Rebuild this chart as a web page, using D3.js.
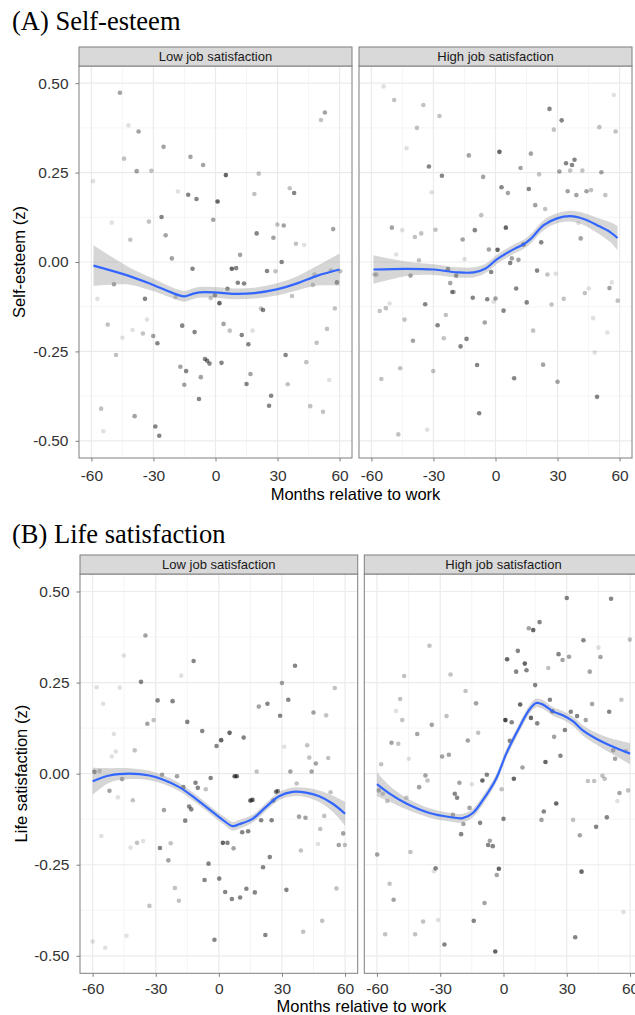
<!DOCTYPE html>
<html>
<head>
<meta charset="utf-8">
<script src="https://cdn.jsdelivr.net/npm/d3@7"></script>
<style>
  body { margin: 0; background: #fff; }
  svg { display: block; }
  text { font-family: "Liberation Sans", Arial, sans-serif; }
  .panel-title { font-family: "Liberation Serif", "Times New Roman", serif; }
</style>
</head>
<body>
<svg id="chart" width="635" height="1015"></svg>
<script>
// Tick labels and facet names
const monthTicks = [-60, -30, 0, 30, 60];
const valueTicks = [-0.5, -0.25, 0, 0.25, 0.5];
const facetNames = ["Low job satisfaction", "High job satisfaction"];

// Points: [months relative to work, z score, weight (darkness)]
const selfEsteemLow = [
  [-46.2,0.473,2],[-42.1,0.382,1],[-37.2,0.365,2],[-44.2,0.289,1.5],[-25.1,0.322,2],[-12.1,0.294,2],
  [-6.0,0.271,2],[-38.1,0.254,2],[-31.0,0.255,1.5],[-59.2,0.226,1],[5.0,0.243,3],[20.9,0.247,1.5],
  [-18.2,0.197,1],[-13.2,0.188,2.5],[-9.2,0.176,2.5],[1.0,0.169,3],[18.8,0.190,1.5],[35.9,0.206,1.5],
  [38.0,0.193,2.5],[51.0,0.397,1.5],[52.9,0.418,2],[-50.2,0.110,1],[-41.2,0.062,1.5],[-32.2,0.113,1.5],
  [-26.1,0.126,2.5],[-24.1,0.075,2],[-1.1,0.118,2],[19.9,0.080,2.5],[28.0,0.068,2],[29.9,0.105,1.5],
  [33.0,0.102,2],[38.9,0.051,1.5],[42.9,0.048,1],[56.9,0.092,2],[-21.1,0.010,2],[-11.1,-0.019,2.5],
  [7.9,-0.019,3],[10.0,-0.017,2.5],[11.9,0.020,2],[24.9,-0.025,2.5],[29.0,-0.026,1.5],[32.0,0.000,2.5],
  [47.9,-0.035,1.5],[47.1,-0.064,1.5],[58.7,-0.057,2.5],[60.3,-0.026,1.5],[55.8,-0.024,1.5],[-49.1,-0.062,2],
  [-57.1,-0.103,1],[-34.1,-0.103,2.5],[-19.3,-0.098,1.5],[-0.3,-0.093,2.5],[-2.3,-0.101,1.5],[1.9,-0.115,3],
  [5.8,-0.075,2.5],[10.8,-0.058,2.5],[13.8,-0.060,2.5],[22.0,-0.130,1.5],[23.0,-0.134,2.5],[37.0,-0.095,1.5],
  [57.7,-0.130,1.5],[-52.1,-0.175,1.5],[-40.1,-0.190,1],[-45.0,-0.212,1],[-35.1,-0.200,1.5],[-33.1,-0.161,1],
  [-30.1,-0.207,2],[-28.1,-0.227,2.5],[-16.1,-0.178,2.5],[-10.1,-0.196,2.5],[3.9,-0.173,2],[6.9,-0.192,1.5],
  [12.7,-0.204,2.5],[15.9,-0.230,2.5],[17.9,-0.192,1],[-48.1,-0.260,1.5],[-17.0,-0.293,2],[-14.2,-0.305,2.5],
  [-15.1,-0.343,2],[-7.1,-0.322,2],[-5.1,-0.271,2.5],[-4.0,-0.276,2.5],[-2.9,-0.284,2.5],[2.9,-0.282,2.5],
  [-8.0,-0.383,2.5],[15.0,-0.341,2.5],[16.9,-0.313,2],[26.9,-0.374,2.5],[25.9,-0.402,2.5],[33.9,-0.260,2.5],
  [34.9,-0.342,1.5],[43.9,-0.280,1.5],[48.9,-0.226,1.5],[53.9,-0.187,1.5],[55.0,-0.330,1],[45.8,-0.403,1.5],
  [52.0,-0.419,1.5],[-55.3,-0.410,1.5],[-54.2,-0.473,1],[-39.1,-0.431,2],[-29.1,-0.460,2.5],[-27.2,-0.486,2.5]
];

const selfEsteemHigh = [
  [-54.1,0.491,1],[-49.0,0.453,1.5],[-34.9,0.439,1.5],[-27.1,0.408,1.5],[-38.0,0.375,1.5],[-43.0,0.318,1],
  [-32.2,0.267,2.5],[-25.9,0.241,2.5],[-12.9,0.298,2],[-6.0,0.238,2],[-30.9,0.195,1],[1.9,0.308,3],
  [17.1,0.303,2],[12.1,0.263,2],[2.9,0.209,2.5],[6.0,0.193,2],[16.1,0.204,2.5],[21.1,0.245,1.5],
  [26.1,0.428,2.5],[32.0,0.396,2.5],[28.2,0.370,1.5],[34.1,0.276,2.5],[38.2,0.286,2.5],[37.0,0.271,2.5],
  [36.1,0.256,1.5],[30.9,0.253,2],[42.0,0.256,1.5],[34.9,0.198,2],[39.1,0.187,2],[44.0,0.198,2],
  [46.2,0.201,1.5],[53.1,0.187,1.5],[51.2,0.251,2],[50.2,0.377,1.5],[57.2,0.467,1],[58.1,0.365,1.5],
  [19.2,0.159,2],[24.0,0.148,1.5],[-6.9,0.131,1.5],[-50.1,0.096,2],[-45.1,0.089,1],[-39.0,0.070,1.5],
  [-35.9,0.080,1.5],[-29.0,0.090,1.5],[-15.9,0.063,2],[-10.0,0.089,2.5],[5.0,0.096,3],[-3.2,0.035,2],
  [1.0,0.034,3],[13.5,0.049,3],[22.1,0.055,2.5],[40.1,0.109,1],[41.2,0.066,2],[-48.0,0.021,1],
  [-37.0,0.005,1.5],[-15.0,0.008,1],[7.9,0.010,2],[11.1,0.006,2],[7.1,-0.003,2.5],[-58.5,-0.035,1.5],
  [-57.5,-0.035,1.5],[-41.1,-0.038,2],[-23.0,-0.020,2.5],[-19.0,-0.038,2.5],[-2.1,-0.028,2.5],[20.1,-0.024,2.5],
  [25.1,-0.035,1.5],[29.1,-0.033,1],[-21.9,-0.059,2],[-20.9,-0.084,2.5],[-20.1,-0.084,1.5],[10.0,-0.074,2.5],
  [-11.0,-0.100,2.5],[-4.0,-0.104,2.5],[0.0,-0.102,2],[-1.0,-0.111,1],[15.1,-0.113,2.5],[27.1,-0.119,1.5],
  [33.0,-0.103,1.5],[43.2,-0.087,1.5],[45.1,-0.074,1],[55.1,-0.073,2],[56.2,-0.057,1],[59.1,-0.108,1.5],
  [-51.2,-0.116,1],[-53.0,-0.129,1.5],[-56.0,-0.137,1.5],[-34.0,-0.118,2.5],[3.9,-0.136,2.5],[-44.0,-0.161,1.5],
  [-24.0,-0.148,1.5],[-28.0,-0.177,2.5],[-5.2,-0.169,2],[-39.9,-0.220,2],[-25.0,-0.213,1.5],[-14.0,-0.215,2.5],
  [-16.9,-0.236,2.5],[18.2,-0.192,1.5],[47.2,-0.157,1],[54.1,-0.197,1],[48.0,-0.253,1],[-46.1,-0.297,1.5],
  [-30.1,-0.305,1.5],[-8.9,-0.288,2.5],[23.0,-0.287,2],[-55.2,-0.327,1.5],[9.0,-0.325,2.5],[30.0,-0.335,2],
  [49.1,-0.377,2.5],[-7.9,-0.423,2.5],[-47.0,-0.482,1.5],[-33.0,-0.469,1]
];

const lifeSatLow = [
  [-34.9,0.379,2],[-45.2,0.324,1],[-12.0,0.309,2.5],[-17.9,0.269,1],[-58.1,0.237,1],[-47.1,0.236,1],
  [-37.0,0.252,2.5],[-55.0,0.192,1],[-29.1,0.201,2.5],[-22.0,0.199,2.5],[-34.0,0.137,2],[-31.0,0.147,1.5],
  [-15.0,0.142,2.5],[-7.9,0.117,2.5],[-49.9,0.109,1],[-49.0,0.061,1],[-50.9,0.047,1],[-40.0,0.064,1.5],
  [-1.1,0.076,2.5],[1.1,0.092,3],[5.1,0.112,3],[11.8,0.099,2.5],[19.0,0.184,2],[23.1,0.192,2.5],
  [29.1,0.159,2.5],[30.0,0.249,2],[33.0,0.203,2.5],[36.2,0.296,2.5],[45.0,0.168,2],[51.0,0.160,1.5],
  [55.1,0.235,1.5],[31.1,0.074,1],[42.0,0.078,1.5],[43.0,0.044,1.5],[46.1,0.028,2],[52.0,0.043,1.5],
  [44.1,0.006,2],[34.0,0.006,2],[18.0,0.006,1.5],[-59.1,0.005,2.5],[-56.7,0.007,1.5],[-27.0,-0.003,2],
  [-19.9,-0.007,2],[-3.9,-0.012,2.5],[7.5,-0.007,3],[8.5,-0.007,3],[-46.0,-0.015,2],[-16.9,-0.037,2.5],
  [-11.1,-0.025,2.5],[-10.0,-0.039,2.5],[-6.2,-0.043,1.5],[-52.0,-0.047,2],[-48.0,-0.065,1],[-40.9,-0.073,1.5],
  [37.0,-0.027,1.5],[27.2,-0.050,2.5],[28.0,-0.048,2.5],[25.9,-0.074,2.5],[15.0,-0.074,3],[16.0,-0.072,3],
  [53.1,-0.051,1.5],[-26.1,-0.100,2],[-14.1,-0.090,2.5],[-13.1,-0.098,2.5],[-16.0,-0.129,2.5],[20.1,-0.128,2.5],
  [25.1,-0.128,2.5],[38.1,-0.118,2],[41.2,-0.121,2],[50.1,-0.116,1.5],[48.2,-0.152,1.5],[59.1,-0.164,2],
  [57.0,-0.196,2],[59.9,-0.196,1.5],[-55.9,-0.171,1],[11.1,-0.161,2.5],[13.9,-0.158,2.5],[-42.0,-0.203,1],
  [-38.9,-0.190,1.5],[-36.0,-0.185,1],[-28.0,-0.204,2.5],[-22.9,-0.191,1.5],[1.9,-0.190,3],[4.1,-0.190,2.5],
  [7.0,-0.205,2],[39.0,-0.211,1.5],[47.1,-0.193,1],[-24.0,-0.238,2],[-4.9,-0.247,2.5],[24.2,-0.229,2.5],
  [21.0,-0.257,2.5],[-6.8,-0.292,2.5],[0.2,-0.288,2.5],[3.0,-0.325,2.5],[6.2,-0.344,2.5],[10.1,-0.340,2.5],
  [13.1,-0.316,2.5],[17.1,-0.326,2.5],[32.1,-0.319,2.5],[-20.9,-0.314,1.5],[-19.0,-0.349,1.5],[55.9,-0.315,1.5],
  [-33.0,-0.363,1.5],[49.1,-0.404,1.5],[40.1,-0.434,1.5],[-43.9,-0.445,1],[-2.1,-0.456,2.5],[22.1,-0.443,2.5],
  [-60.0,-0.461,1],[-54.0,-0.478,1]
];

const lifeSatHigh = [
  [30.0,0.482,2.5],[51.0,0.480,2.5],[17.1,0.416,2.5],[12.0,0.399,2],[14.1,0.394,3],[37.9,0.366,2.5],
  [45.0,0.346,1],[59.9,0.368,1.5],[-35.1,0.351,1.5],[1.7,0.314,3],[6.8,0.337,2.5],[10.1,0.302,3],
  [6.0,0.280,2.5],[10.9,0.284,2.5],[26.1,0.328,2.5],[28.0,0.312,2],[31.1,0.321,2],[21.2,0.290,1.5],
  [40.9,0.280,2],[46.0,0.320,2],[-47.1,0.268,1.5],[-25.1,0.272,1.5],[15.0,0.243,2.5],[-18.0,0.227,1.5],
  [-49.0,0.205,1.5],[-13.0,0.193,2],[-51.0,0.172,1],[-48.0,0.147,1.5],[-34.0,0.134,2],[-27.0,0.158,1.5],
  [7.9,0.190,3],[22.0,0.203,2.5],[23.2,0.171,3],[31.9,0.170,2.5],[34.9,0.158,2.5],[39.0,0.147,2],
  [42.0,0.191,2],[50.1,0.170,2.5],[55.9,0.203,1.5],[0.9,0.147,3.5],[3.9,0.141,2.5],[13.0,0.153,3],
  [16.0,0.138,2.5],[29.1,0.120,2.5],[24.0,0.101,2],[-40.9,0.109,2],[-53.1,0.085,2],[-49.9,0.082,1.5],
  [-44.9,0.041,1],[-16.9,0.091,2],[-12.0,0.112,1.5],[-29.1,0.047,2],[-25.9,0.052,2],[3.0,0.090,2.5],
  [27.0,0.049,2.5],[19.9,0.032,3],[52.0,0.064,2],[52.9,0.041,2],[58.0,0.062,1.5],[-58.0,0.026,1.5],
  [9.0,0.017,2],[-7.9,-0.003,2.5],[4.9,-0.014,3],[-37.0,-0.005,2],[-40.0,-0.037,2],[-36.0,-0.019,1.5],
  [-20.9,-0.025,2],[-15.0,-0.029,1],[-10.0,-0.019,3],[-0.9,-0.043,1.5],[40.0,-0.020,1.5],[43.0,-0.020,1.5],
  [46.9,-0.006,1.5],[48.0,-0.014,1.5],[-59.1,-0.046,2],[-57.2,-0.055,1.5],[-55.1,-0.075,1.5],[-46.1,-0.066,1.5],
  [-23.1,-0.055,2.5],[-22.0,-0.066,2.5],[55.0,-0.053,2],[59.1,-0.046,1.5],[54.0,-0.075,1],[-24.0,-0.113,2],
  [-16.1,-0.094,2],[-19.0,-0.138,2],[-20.1,-0.166,2.5],[-11.1,-0.135,2.5],[0.0,-0.124,2.5],[19.1,-0.104,2.5],
  [18.0,-0.127,2],[25.0,-0.082,3],[33.0,-0.127,1.5],[36.2,-0.169,2],[43.9,-0.146,2.5],[49.0,-0.120,2.5],
  [-59.9,-0.222,2],[-44.1,-0.215,1.5],[-6.5,-0.184,2],[-7.3,-0.196,2.5],[-5.1,-0.199,2.5],[-2.2,-0.261,3],
  [-3.2,-0.278,2],[-32.2,-0.260,2.5],[-33.0,-0.268,1],[37.0,-0.269,3],[-54.0,-0.302,1.5],[-52.1,-0.346,2],
  [-9.0,-0.355,2],[-38.1,-0.406,1.5],[-31.0,-0.402,1],[-14.1,-0.404,2.5],[-56.1,-0.441,1.5],[-41.9,-0.441,1.5],
  [-28.0,-0.469,2.5],[-3.9,-0.488,3],[34.0,-0.449,2.5],[56.9,-0.380,1]
];

// Loess fits: [months, fitted value, standard-error half width]
const selfEsteemLowFit = [
  [-59,-0.010,0.057],[-42.3,-0.038,0.025],[-31,-0.062,0.018],[-18.2,-0.092,0.015],[-15,-0.096,0.015],
  [-11.1,-0.089,0.015],[-7.7,-0.085,0.015],[-0.5,-0.085,0.015],[9.2,-0.089,0.015],[18.8,-0.087,0.015],
  [30.1,-0.076,0.017],[39.8,-0.059,0.02],[49.4,-0.038,0.028],[60,-0.021,0.045]
];
const selfEsteemHighFit = [
  [-59,-0.021,0.04],[-42.7,-0.019,0.02],[-29.8,-0.021,0.015],[-18.5,-0.029,0.014],[-10.5,-0.029,0.014],
  [-4.8,-0.018,0.013],[0.8,0.008,0.013],[8.9,0.036,0.013],[13.7,0.050,0.013],[16.9,0.064,0.013],
  [23.3,0.103,0.014],[29.8,0.122,0.014],[36.2,0.128,0.015],[42.7,0.120,0.017],[49.1,0.103,0.021],
  [55.6,0.083,0.028],[59,0.067,0.034]
];
const lifeSatLowFit = [
  [-60,-0.021,0.037],[-52,-0.005,0.02],[-42.5,0.000,0.015],[-33,-0.005,0.013],[-26.7,-0.016,0.012],
  [-18.8,-0.037,0.011],[-10.9,-0.069,0.011],[-3,-0.105,0.011],[1.7,-0.126,0.011],[6.5,-0.144,0.012],
  [9.6,-0.139,0.012],[16,-0.124,0.011],[22.3,-0.092,0.011],[28.6,-0.062,0.011],[35.1,-0.050,0.012],
  [41.4,-0.052,0.013],[47.7,-0.062,0.016],[54,-0.082,0.022],[60,-0.110,0.033]
];
const lifeSatHighFit = [
  [-60,-0.029,0.033],[-54,-0.055,0.022],[-46.1,-0.082,0.016],[-35.1,-0.108,0.013],[-25.6,-0.119,0.012],
  [-19.3,-0.122,0.012],[-14.5,-0.108,0.012],[-9.8,-0.073,0.012],[-3.5,-0.014,0.012],[1.3,0.055,0.012],
  [6,0.110,0.012],[12.3,0.176,0.012],[15.5,0.194,0.012],[18.6,0.190,0.012],[23.4,0.171,0.012],
  [28.1,0.160,0.012],[32.9,0.144,0.013],[37.6,0.119,0.014],[44,0.096,0.016],[50.3,0.078,0.02],
  [60,0.055,0.029]
];

// Layout of the two stacked figures
const panels = [
  {
    title: "(A) Self-esteem", titleY: 30, yTitle: "Self-esteem (z)", yTitleX: 25,
    stripTop: 47, top: 66, bottom: 458, facetX: [[79, 352], [359, 632]],
    xLabelGap: 8, xTitleY: 500,
    points: [selfEsteemLow, selfEsteemHigh], fits: [selfEsteemLowFit, selfEsteemHighFit]
  },
  {
    title: "(B) Life satisfaction", titleY: 543, yTitle: "Life satisfaction (z)", yTitleX: 27,
    stripTop: 555, top: 574, bottom: 973.3, facetX: [[80, 357.7], [364.3, 642.7]],
    xLabelGap: 6, xTitleY: 1012,
    points: [lifeSatLow, lifeSatHigh], fits: [lifeSatLowFit, lifeSatHighFit]
  }
];

const xDomain = [-66, 66];
const yDomain = [-0.548, 0.548];
const borderColor = "#7f7f7f";
const opacity = d3.scaleLinear().domain([1, 3.5]).range([0.12, 0.72]);

const svg = d3.select("#chart");

// Minor grid sits halfway between the major ticks
function midpoints(ticks) {
  return d3.pairs(ticks).map(([a, b]) => (a + b) / 2);
}

/**
 * Draws one facet: grid, points, ribbon, smooth line, border, strip
 */
function renderFacet(g, x, y, pts, fit, name, panel, idx) {
  const [x0, x1] = panel.facetX[idx];
  const clipId = `clip-${panel.titleY}-${idx}`;

  g.append("clipPath").attr("id", clipId)
    .append("rect")
    .attr("x", x0).attr("y", panel.top)
    .attr("width", x1 - x0).attr("height", panel.bottom - panel.top);

  const body = g.append("g").attr("clip-path", `url(#${clipId})`);

  body.append("rect")
    .attr("x", x0).attr("y", panel.top)
    .attr("width", x1 - x0).attr("height", panel.bottom - panel.top)
    .attr("fill", "#fff");

  // Minor then major grid
  body.selectAll(".minor-x").data(midpoints(monthTicks)).join("line")
    .attr("x1", d => x(d)).attr("x2", d => x(d))
    .attr("y1", panel.top).attr("y2", panel.bottom)
    .attr("stroke", "#f1f1f1").attr("stroke-width", 0.7);
  body.selectAll(".minor-y").data(midpoints(valueTicks)).join("line")
    .attr("x1", x0).attr("x2", x1)
    .attr("y1", d => y(d)).attr("y2", d => y(d))
    .attr("stroke", "#f1f1f1").attr("stroke-width", 0.7);
  body.selectAll(".major-x").data(monthTicks).join("line")
    .attr("x1", d => x(d)).attr("x2", d => x(d))
    .attr("y1", panel.top).attr("y2", panel.bottom)
    .attr("stroke", "#ebebeb").attr("stroke-width", 1.2);
  body.selectAll(".major-y").data(valueTicks).join("line")
    .attr("x1", x0).attr("x2", x1)
    .attr("y1", d => y(d)).attr("y2", d => y(d))
    .attr("stroke", "#ebebeb").attr("stroke-width", 1.2);

  body.selectAll(".pt").data(pts).join("circle")
    .attr("cx", d => x(d[0]))
    .attr("cy", d => y(d[1]))
    .attr("r", 2.3)
    .attr("fill", "#000")
    .attr("fill-opacity", d => opacity(d[2]));

  const band = d3.area()
    .x(d => x(d[0]))
    .y0(d => y(d[1] - d[2]))
    .y1(d => y(d[1] + d[2]))
    .curve(d3.curveCatmullRom);

  const line = d3.line()
    .x(d => x(d[0]))
    .y(d => y(d[1]))
    .curve(d3.curveCatmullRom);

  body.append("path")
    .attr("d", band(fit))
    .attr("fill", "#999")
    .attr("fill-opacity", 0.4);

  body.append("path")
    .attr("d", line(fit))
    .attr("fill", "none")
    .attr("stroke", "#3366FF")
    .attr("stroke-width", 2.2);

  g.append("rect")
    .attr("x", x0).attr("y", panel.top)
    .attr("width", x1 - x0).attr("height", panel.bottom - panel.top)
    .attr("fill", "none")
    .attr("stroke", borderColor)
    .attr("stroke-width", 1);

  // Facet strip
  g.append("rect")
    .attr("x", x0).attr("y", panel.stripTop)
    .attr("width", x1 - x0).attr("height", panel.top - panel.stripTop)
    .attr("fill", "#d9d9d9")
    .attr("stroke", borderColor)
    .attr("stroke-width", 1);

  g.append("text")
    .attr("x", (x0 + x1) / 2)
    .attr("y", (panel.stripTop + panel.top) / 2)
    .attr("text-anchor", "middle")
    .attr("dominant-baseline", "central")
    .style("font-size", "13px")
    .style("fill", "#1a1a1a")
    .text(name);

  // Bottom axis for every facet
  const xAxis = d3.axisBottom(x)
    .tickValues(monthTicks)
    .tickFormat(d => String(d))
    .tickSize(3.5)
    .tickPadding(panel.xLabelGap);

  const gx = g.append("g")
    .attr("transform", `translate(0,${panel.bottom})`)
    .call(xAxis);
  styleAxis(gx);

  if (idx === 0) {
    const yAxis = d3.axisLeft(y)
      .tickValues(valueTicks)
      .tickFormat(d => d.toFixed(2))
      .tickSize(3.5)
      .tickPadding(7);
    const gy = g.append("g")
      .attr("transform", `translate(${x0},0)`)
      .call(yAxis);
    styleAxis(gy);
  }
}

function styleAxis(sel) {
  sel.select(".domain").remove();
  sel.selectAll(".tick line").attr("stroke", borderColor);
  sel.selectAll(".tick text")
    .style("font-size", "15.5px")
    .style("fill", "#333")
    .attr("font-family", null);
}

panels.forEach(panel => {
  const g = svg.append("g").attr("class", "panel");
  const y = d3.scaleLinear().domain(yDomain).range([panel.bottom, panel.top]);

  g.append("text")
    .attr("class", "panel-title")
    .attr("x", 12)
    .attr("y", panel.titleY)
    .style("font-size", "26.5px")
    .style("fill", "#000")
    .text(panel.title);

  panel.facetX.forEach(([x0, x1], i) => {
    const x = d3.scaleLinear().domain(xDomain).range([x0, x1]);
    renderFacet(g, x, y, panel.points[i], panel.fits[i], facetNames[i], panel, i);
  });

  const left = panel.facetX[0][0];
  const right = panel.facetX[1][1];

  g.append("text")
    .attr("x", (left + right) / 2)
    .attr("y", panel.xTitleY)
    .attr("text-anchor", "middle")
    .style("font-size", "16.5px")
    .style("fill", "#000")
    .text("Months relative to work");

  g.append("text")
    .attr("transform", `translate(${panel.yTitleX},${(panel.top + panel.bottom) / 2}) rotate(-90)`)
    .attr("text-anchor", "middle")
    .style("font-size", "16.5px")
    .style("fill", "#000")
    .text(panel.yTitle);
});
</script>
</body>
</html>
